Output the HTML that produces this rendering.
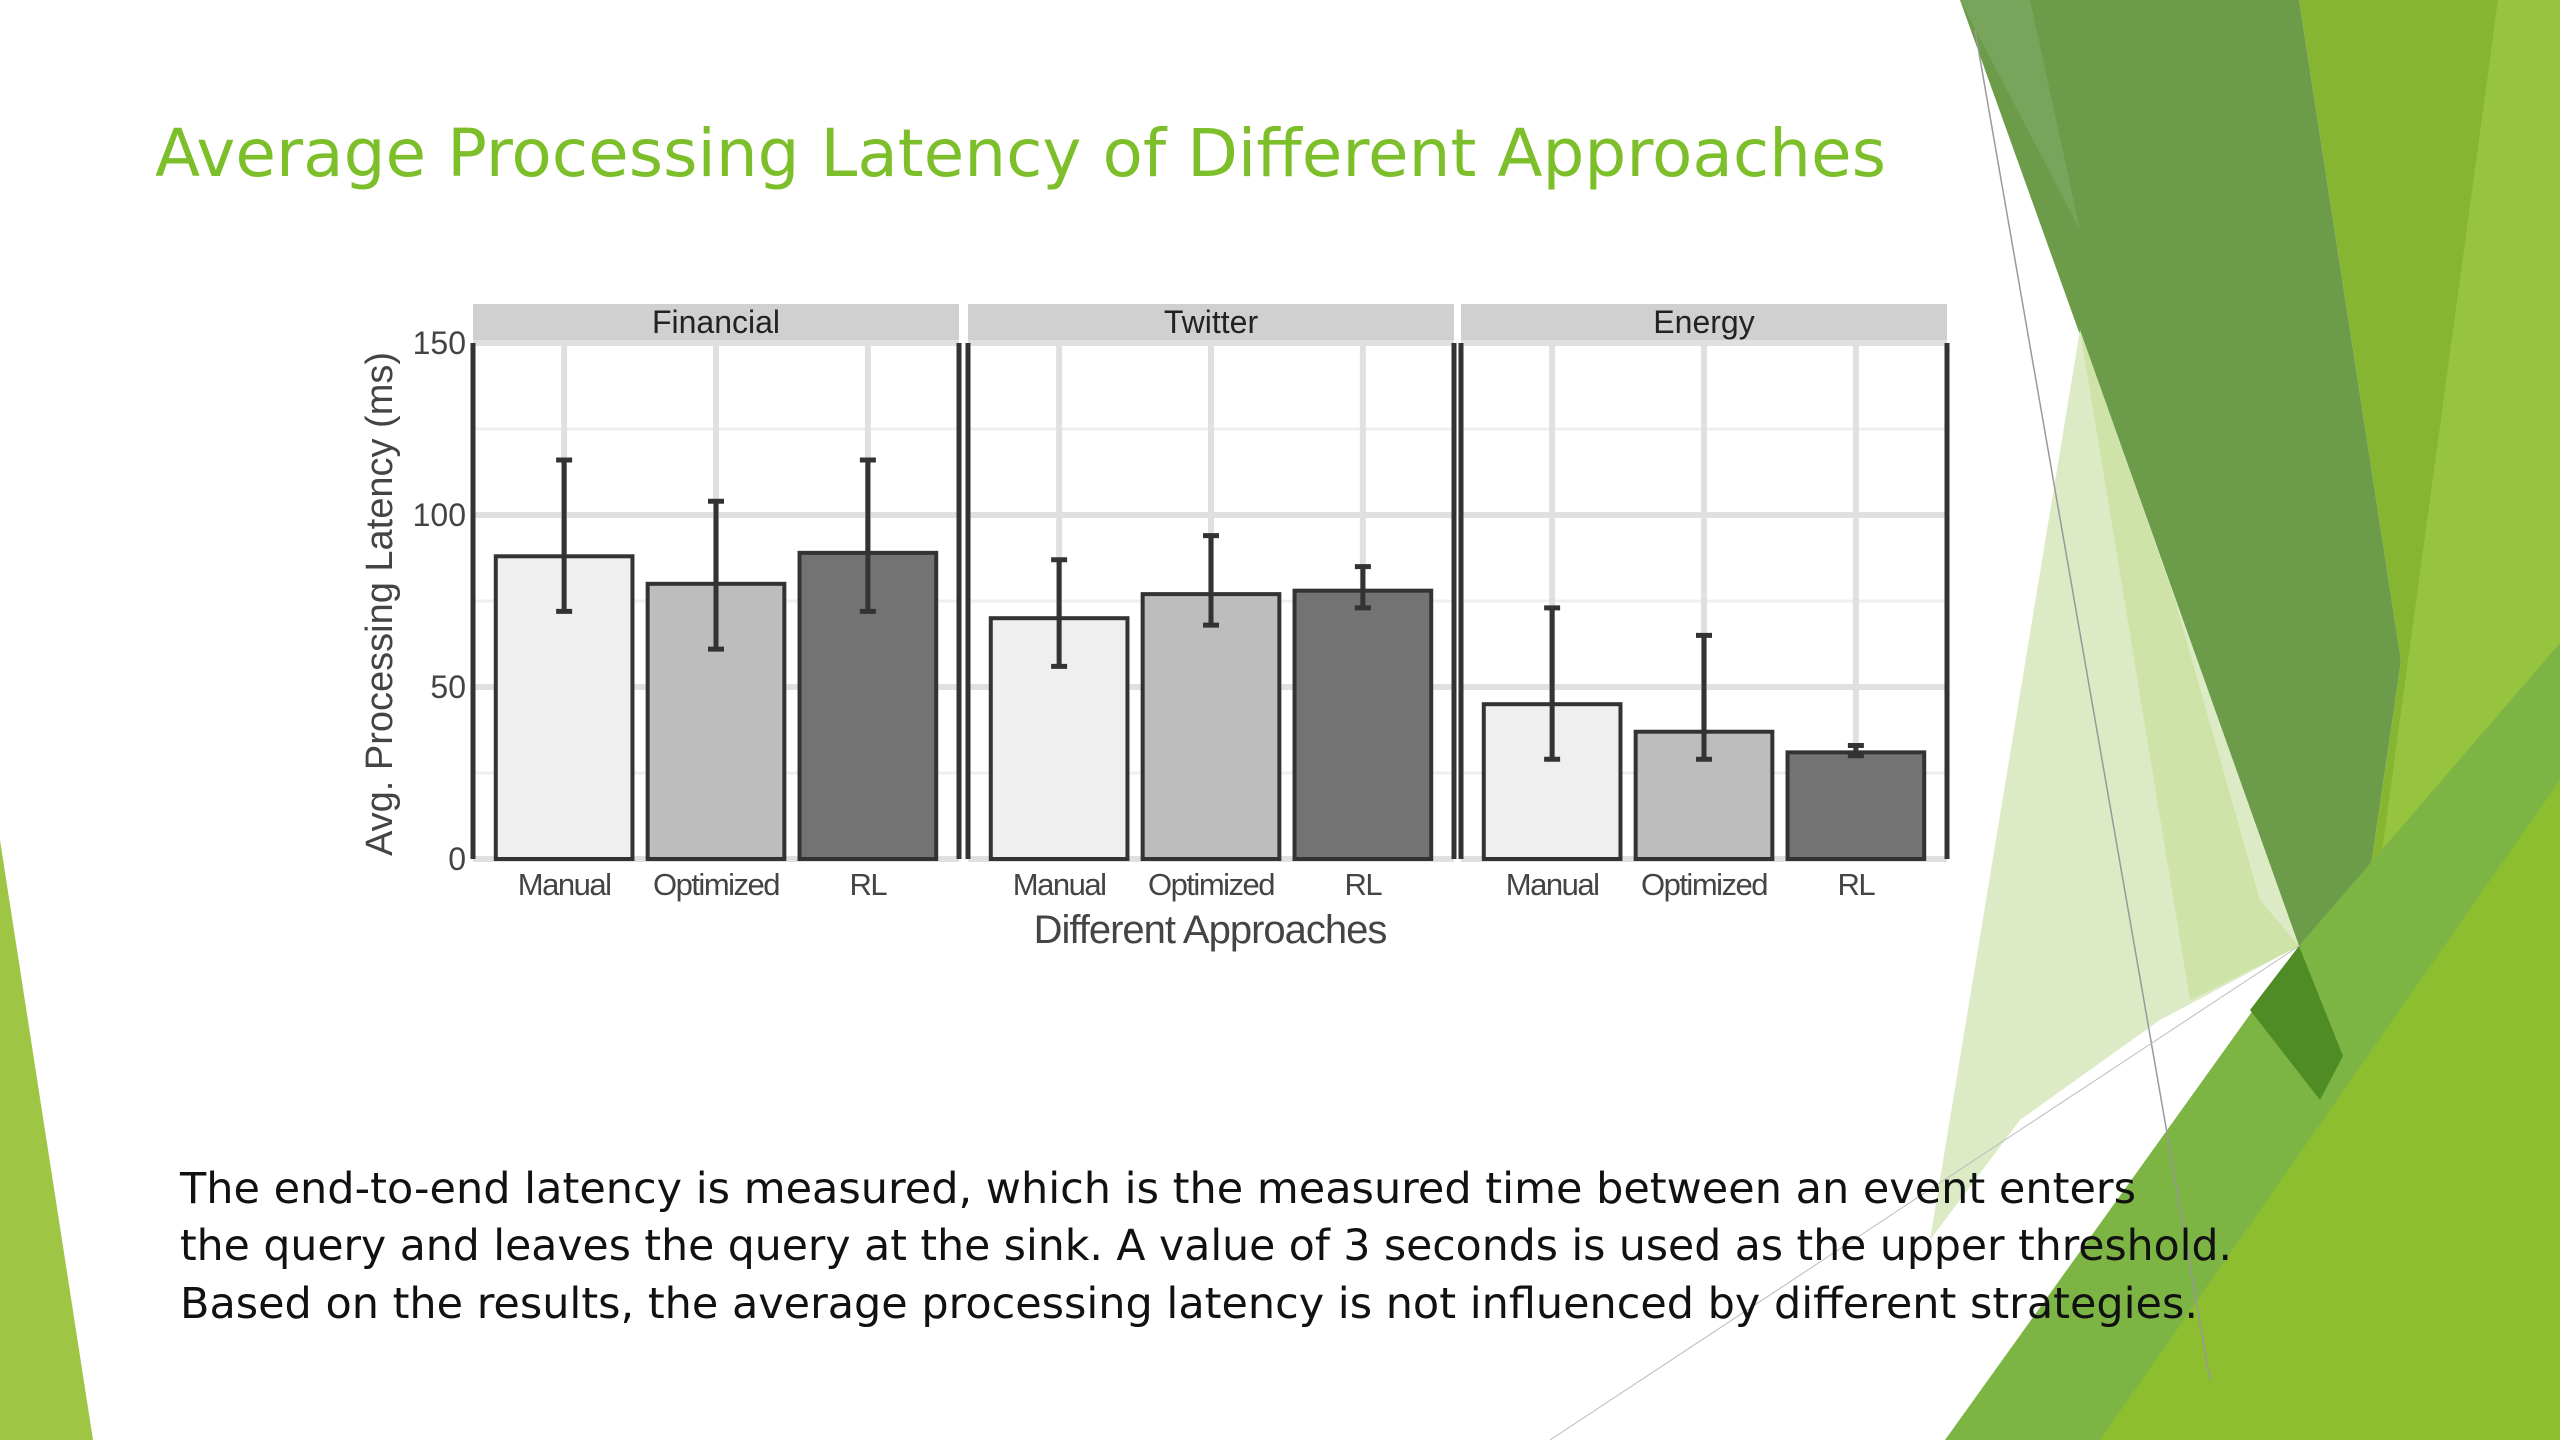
<!DOCTYPE html>
<html><head><meta charset="utf-8"><style>
html,body{margin:0;padding:0;background:#fff;width:2560px;height:1440px;overflow:hidden}
svg{display:block}
text{font-family:"DejaVu Sans","Liberation Sans",sans-serif}
.ax{font-family:"Liberation Sans",sans-serif}
</style></head><body>
<svg id="slide" width="2560" height="1440" viewBox="0 0 2560 1440">
<g>
  <polygon points="0,840 93,1440 0,1440" fill="#9fc545"/>
  <polygon points="2299,0 2560,0 2560,1440 2100,1440 2343,1056 2401,661" fill="#86b532"/>
  <polygon points="2498,0 2560,0 2560,1440 2330,1440 2340,1160" fill="#96c43e"/>
  <polygon points="1960,0 2299,0 2401,661 2343,1056 2299,946" fill="#6c9c4a"/>
  <polygon points="1960,0 2030,0 2080,230" fill="#78a45c"/>
  <polygon points="2080,330 2299,946 2160,1020 2020,1120 1930,1240" fill="#dcebc6"/>
  <polygon points="2080,330 2175,600 2260,900 2299,946 2190,1000" fill="#cfe3a8"/>
  <polygon points="1945,1440 2299,946 2560,643 2560,1440" fill="#7db545"/>
  <polygon points="2100,1440 2560,780 2560,1440" fill="#8cbe2f"/>
  <polygon points="2299,946 2343,1056 2320,1100 2250,1010" fill="#4f8c25"/>
  <line x1="1975" y1="30" x2="2210" y2="1380" stroke="#999" stroke-width="1.5"/>
  <line x1="1550" y1="1440" x2="2299" y2="946" stroke="#bbb" stroke-width="1"/>
</g>
<text x="155" y="176" font-size="66" fill="#7dbf2b" textLength="1731" lengthAdjust="spacingAndGlyphs">Average Processing Latency of Different Approaches</text>
<g id="chart"></g>
<g font-size="43" fill="#111">
  <text x="180" y="1203" textLength="1956" lengthAdjust="spacingAndGlyphs">The end-to-end latency is measured, which is the measured time between an event enters</text>
  <text x="180" y="1260" textLength="2052" lengthAdjust="spacingAndGlyphs">the query and leaves the query at the sink. A value of 3 seconds is used as the upper threshold.</text>
  <text x="180" y="1318" textLength="2018" lengthAdjust="spacingAndGlyphs">Based on the results, the average processing latency is not influenced by different strategies.</text>
</g>
</svg>
<script>
const panels = ["Financial", "Twitter", "Energy"];
const approaches = ["Manual", "Optimized", "RL"];
const meanValues = [[88, 80, 89], [70, 77, 78], [45, 37, 31]];
const errLow = [[72, 61, 72], [56, 68, 73], [29, 29, 30]];
const errHigh = [[116, 104, 116], [87, 94, 85], [73, 65, 33]];
const yTicks = [0, 50, 100, 150];
const yMinor = [25, 75, 125];

const NS = "http://www.w3.org/2000/svg";
const chart = document.getElementById("chart");
const panelX = [473, 968, 1461], panelW = 486;
const yTop = 343, yBot = 859, yMax = 150;
const stripTop = 304;
const fills = ["#efefef", "#bdbdbd", "#737373"];
function y(v){ return yBot - (v / yMax) * (yBot - yTop); }
function x(p, i){ const u = panelW / 3.2; return panelX[p] + (0.6 + i) * u; }
const barW = panelW / 3.2 * 0.9;
function mk(tag, attrs, parent){ const e = document.createElementNS(NS, tag); for (const k in attrs) e.setAttribute(k, attrs[k]); (parent||chart).appendChild(e); return e; }

panels.forEach((name, p) => {
  const g = mk("g", {});
  
  
  const strip = mk("rect", {x: panelX[p], y: stripTop, width: panelW, height: yTop - stripTop, fill: "#d0d0d0"}, g);
  
  
  const st = mk("text", {x: panelX[p] + panelW/2, y: yTop - 10, "font-size": 32, "text-anchor": "middle", fill: "#222", class: "ax"}, g);
  st.textContent = name;
  
  
  yMinor.forEach(t => { mk("line", {x1: panelX[p], x2: panelX[p]+panelW, y1: y(t), y2: y(t), stroke: "#efefef", "stroke-width": 3}, g); });
  yTicks.forEach(t => {
    const gl = mk("line", {x1: panelX[p], x2: panelX[p]+panelW, y1: y(t), y2: y(t), stroke: "#e0e0e0", "stroke-width": 6}, g);
    
    
  });
  approaches.forEach((a, i) => { mk("line", {x1: x(p,i), x2: x(p,i), y1: yTop, y2: yBot, stroke: "#e0e0e0", "stroke-width": 6}, g); });
  approaches.forEach((a, i) => {
    const v = meanValues[p][i];
    const b = mk("rect", {x: x(p,i) - barW/2, y: y(v), width: barW, height: y(0) - y(v), fill: fills[i], stroke: "#333", "stroke-width": 4}, g);
    
    
    const eb = mk("path", {d: "M" + x(p,i) + "," + y(errLow[p][i]) + "V" + y(errHigh[p][i]) + "M" + (x(p,i)-8) + "," + y(errLow[p][i]) + "h16M" + (x(p,i)-8) + "," + y(errHigh[p][i]) + "h16", stroke: "#333", "stroke-width": 5, fill: "none"}, g);
    
    
    const tl = mk("text", {x: x(p,i), y: 895, "font-size": 31, "text-anchor": "middle", fill: "#444", class: "ax", "letter-spacing": "-1.5"}, g);
    tl.textContent = a;
    
    
  });
  mk("line", {x1: panelX[p], x2: panelX[p], y1: yTop, y2: yBot, stroke: "#333", "stroke-width": 5}, g);
  mk("line", {x1: panelX[p]+panelW, x2: panelX[p]+panelW, y1: yTop, y2: yBot, stroke: "#333", "stroke-width": 5}, g);
});
yTicks.forEach(t => {
  const tt = mk("text", {x: 466, y: y(t) + 11, "font-size": 32, "text-anchor": "end", fill: "#444", class: "ax"});
  tt.textContent = t;
  
  
});
const yt = mk("text", {x: 0, y: 0, "font-size": 38, "text-anchor": "middle", fill: "#444", class: "ax", transform: "translate(392,604) rotate(-90)"});
yt.textContent = "Avg. Processing Latency (ms)";


const xt = mk("text", {x: 1210, y: 943, "font-size": 40, "text-anchor": "middle", fill: "#444", class: "ax", "letter-spacing": "-1"});
xt.textContent = "Different Approaches";


</script>
</body></html>
